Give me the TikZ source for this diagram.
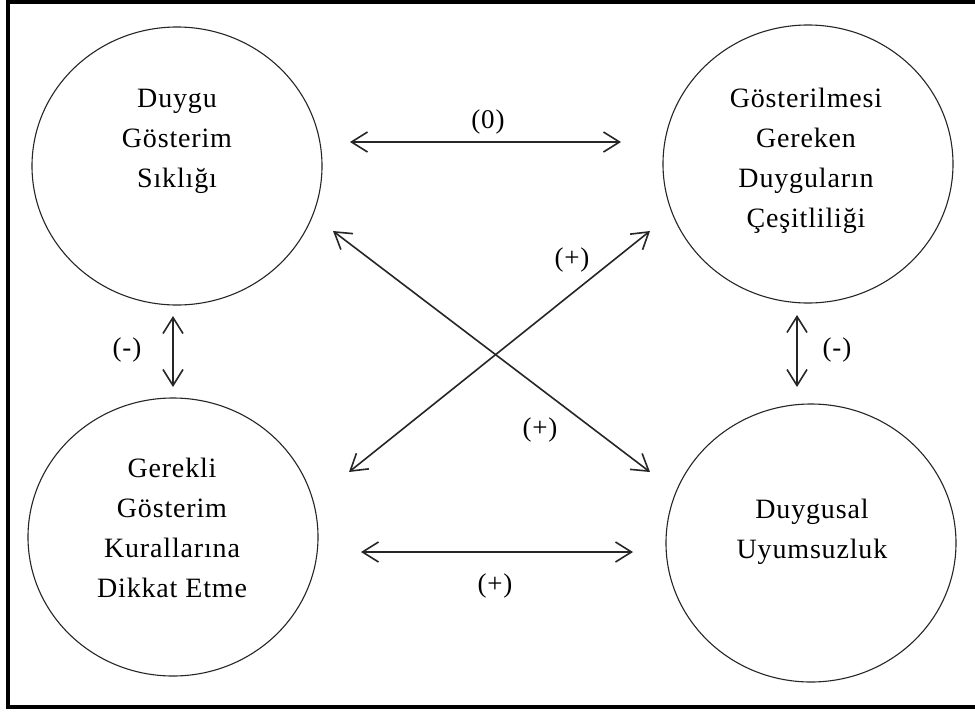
\documentclass[tikz,border=0pt]{standalone}
\usepackage{fontspec}
\setmainfont{Liberation Serif}
\newfontfamily\labfont[LetterSpace=3]{Liberation Serif}
\usetikzlibrary{shapes.geometric,arrows.meta}
\begin{document}
\begin{tikzpicture}[x=1pt,y=-1pt,
  circ/.style={draw=black!85, line width=1.1pt, ellipse, minimum width=290pt, minimum height=278pt, inner sep=0pt},
  txt/.style={font=\fontsize{28}{40}\labfont, align=center, anchor=north, inner sep=0pt},
  sign/.style={font=\fontsize{27}{30}\labfont, inner sep=0pt},
  link/.style={draw=black!85, line width=1.6pt, {Straight Barb[length=16pt,width=20pt,line width=1.6pt]}-{Straight Barb[length=16pt,width=20pt,line width=1.6pt]}}
]
\useasboundingbox (0,0) rectangle (975,713);
\clip (0,0) rectangle (975,713);
\fill[white] (0,0) rectangle (975,713);
\draw[line width=4pt] (8,2) rectangle (990,707);

% circles
\node[circ] (c1) at (177,166) {};
\node[circ] (c2) at (808,164) {};
\node[circ] (c3) at (173,537) {};
\node[circ] (c4) at (811,543) {};

% texts
\node[txt] (t1) at (177,89) {Duygu\\Gösterim\\Sıklığı};
\node[txt] (t2) at (806,88) {Gösterilmesi\\Gereken\\Duyguların\\Çeşitliliği};
\node[txt] (t3) at (172,458) {Gerekli\\Gösterim\\Kurallarına\\Dikkat Etme};
\node[txt] (t4) at (812,499) {Duygusal\\Uyumsuzluk};

% arrow end coordinates
\coordinate (a1) at (350,142);
\coordinate (a2) at (621,142);
\coordinate (b1) at (333,231);
\coordinate (b2) at (650,472);
\coordinate (d1) at (349,472);
\coordinate (d2) at (650,231);
\coordinate (e1) at (173,316);
\coordinate (e2) at (173,387);
\coordinate (f1) at (797,315);
\coordinate (f2) at (797,387);
\coordinate (g1) at (361,552);
\coordinate (g2) at (633,552);

\draw[link] (a1) -- (a2);
\draw[link] (b1) -- (b2);
\draw[link] (d1) -- (d2);
\draw[link] (e1) -- (e2);
\draw[link] (f1) -- (f2);
\draw[link] (g1) -- (g2);

% signs
\node[sign] (s1) at (488,122) {(0)};
\node[sign] (s2) at (572,260) {(+)};
\node[sign] (s3) at (540,430) {(+)};
\node[sign] (s4) at (127,350) {(-)};
\node[sign] (s5) at (837,350) {(-)};
\node[sign] (s6) at (495,586) {(+)};
\end{tikzpicture}
\end{document}
